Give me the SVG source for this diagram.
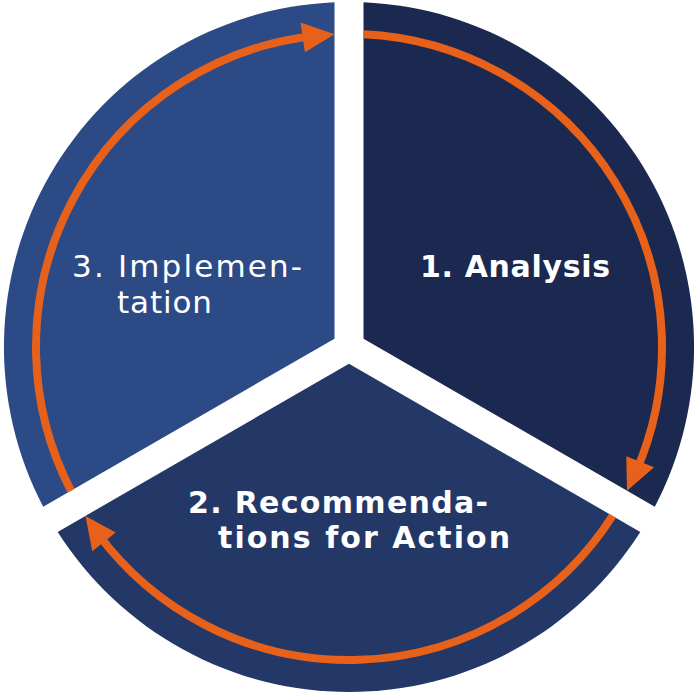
<svg xmlns="http://www.w3.org/2000/svg" width="700" height="700" viewBox="0 0 700 700">
  <style>
    .lbl { font-family: "DejaVu Sans", "Liberation Sans", Arial, sans-serif; fill: #ffffff; }
    .bold { font-weight: bold; font-size: 30px; }
    .reg { font-weight: normal; font-size: 31px; }
    .ring { fill: none; stroke: #e8611a; stroke-width: 8; }
    .head { fill: #e8611a; }
  </style>
  <rect width="700" height="700" fill="#ffffff"/>
  <g id="node-analysis">
    <path d="M363.5,338.63 L363.5,2.3 A345,345 0 0 1 654.8,506.8 Z" fill="#1b2850"/>
    <text class="lbl bold" x="420" y="277" textLength="190" lengthAdjust="spacing">1. Analysis</text>
  </g>
  <g id="node-recommendations">
    <path d="M349,363.74 L640.3,531.9 A345,345 0 0 1 57.7,531.9 Z" fill="#243868"/>
    <text class="lbl bold" x="188" y="513" textLength="300" lengthAdjust="spacing">2. Recommenda-</text>
    <text class="lbl bold" x="218" y="548" textLength="292" lengthAdjust="spacing">tions for Action</text>
  </g>
  <g id="node-implementation">
    <path d="M334.5,338.63 L43.2,506.8 A345,345 0 0 1 334.5,2.3 Z" fill="#2c4a86"/>
    <text class="lbl reg" x="72" y="277" textLength="230" lengthAdjust="spacing">3. Implemen-</text>
    <text class="lbl reg" x="117" y="313" textLength="95" lengthAdjust="spacing">tation</text>
  </g>
  <g id="connectors">
    <path class="ring" d="M363.5,34.33 A313,313 0 0 1 636.04,471.81"/>
    <polygon class="head" points="627.02,490.77 654.18,467.21 626.27,456.22"/>
    <path class="ring" d="M612.52,515.89 A313,313 0 0 1 97.39,533.18"/>
    <polygon class="head" points="85.48,515.89 92.30,551.18 115.78,532.51"/>
    <path class="ring" d="M70.98,490.77 A313,313 0 0 1 313.57,36.01"/>
    <polygon class="head" points="334.5,34.33 300.52,22.60 304.95,52.27"/>
  </g>
</svg>
